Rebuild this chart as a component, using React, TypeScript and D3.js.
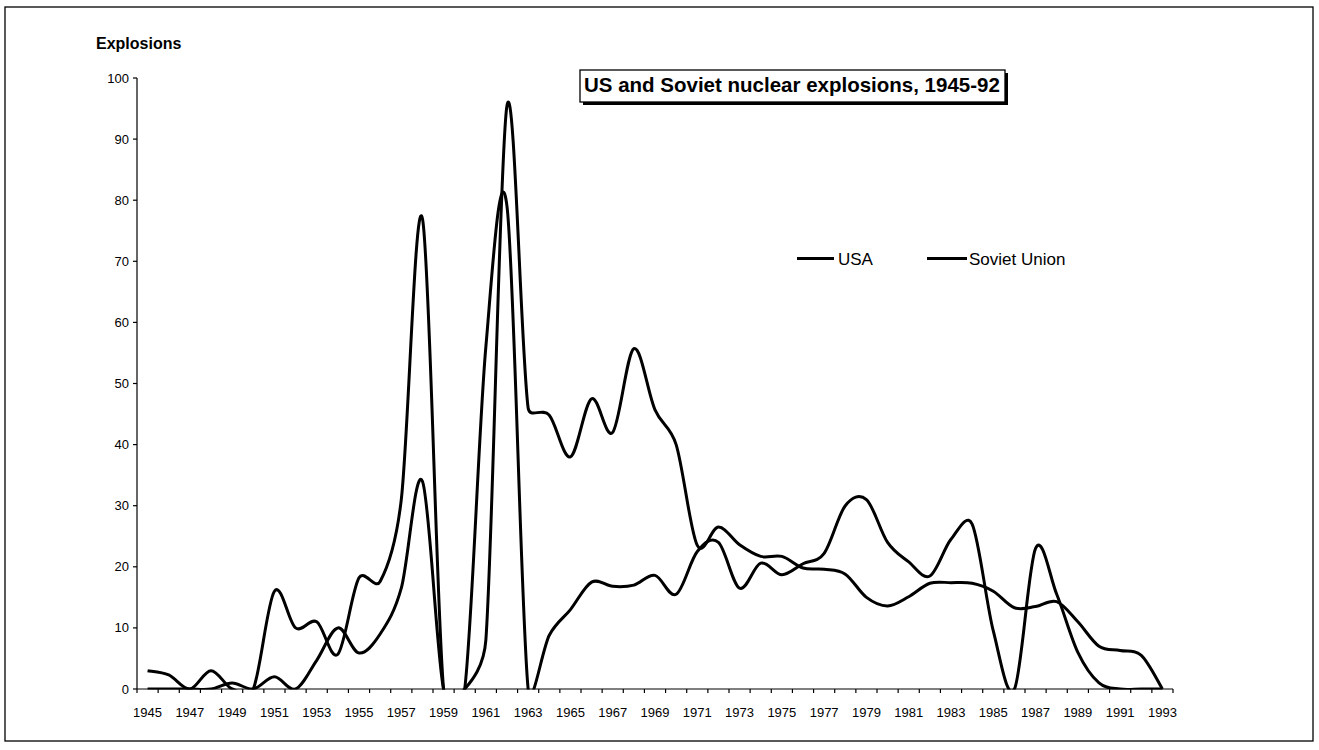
import React from "react";
import * as d3 from "d3";

const years = [
  1945, 1946, 1947, 1948, 1949, 1950, 1951, 1952, 1953, 1954, 1955, 1956, 1957, 1958, 1959, 1960, 1961,
  1962, 1963, 1964, 1965, 1966, 1967, 1968, 1969, 1970, 1971, 1972, 1973, 1974, 1975, 1976, 1977, 1978,
  1979, 1980, 1981, 1982, 1983, 1984, 1985, 1986, 1987, 1988, 1989, 1990, 1991, 1992, 1993,
];

const usa = [
  3, 2.3, 0, 3, 0, 0, 16, 10, 11, 5.7, 18.2, 17.6, 31, 77, 0, 0, 8, 95.5, 46, 44.8, 38, 47.5, 42, 55.7,
  45.7, 40, 23.5, 26.5, 23.6, 21.7, 21.7, 19.8, 19.6, 18.8, 15, 13.6, 15.1, 17.3, 17.4, 17.3, 16, 13.3,
  13.5, 14.3, 11, 7, 6.3, 5.5, 0,
];

const soviet = [
  0, 0, 0, 0, 1, 0, 2, 0, 4.7, 10, 5.9, 9, 16.5, 34, 0, 0, 56, 79, 0, 8.8, 13, 17.5, 16.8, 17, 18.6,
  15.5, 22.5, 24, 16.5, 20.6, 18.7, 20.5, 22.2, 30, 31, 24, 20.8, 18.5, 24.5, 27, 9.5, 0, 23, 15.5, 6, 1,
  0, 0, 0,
];

const yTicks = [0, 10, 20, 30, 40, 50, 60, 70, 80, 90, 100];
const xLabelYears = years.filter((y) => (y - 1945) % 2 === 0);

const seriesNames = ["USA", "Soviet Union"];
const title = "US and Soviet nuclear explosions, 1945-92";
const yTitle = "Explosions";

// Spreadsheet-style smoothed line: Bezier with (P[i+1]-P[i-1])/6 tangents,
// capped to half the segment length to avoid overshoot on short segments.
function curveSpreadsheet(context: any) {
  let pts: [number, number][] = [];
  return {
    areaStart() {},
    areaEnd() {},
    lineStart() {
      pts = [];
    },
    point(x: number, y: number) {
      pts.push([+x, +y]);
    },
    lineEnd() {
      const n = pts.length;
      if (!n) return;
      context.moveTo(pts[0][0], pts[0][1]);
      const tan = (i: number) => {
        const a = pts[Math.max(0, i - 1)];
        const b = pts[Math.min(n - 1, i + 1)];
        return [(b[0] - a[0]) / 6, (b[1] - a[1]) / 6];
      };
      for (let i = 0; i < n - 1; i++) {
        const a = pts[i];
        const b = pts[i + 1];
        const seg = Math.hypot(b[0] - a[0], b[1] - a[1]);
        const cap = (t: number[]) => {
          const l = Math.hypot(t[0], t[1]);
          const m = seg / 2;
          return l > m && l > 0 ? [(t[0] * m) / l, (t[1] * m) / l] : t;
        };
        const t1 = cap(tan(i));
        const t2 = cap(tan(i + 1));
        context.bezierCurveTo(a[0] + t1[0], a[1] + t1[1], b[0] - t2[0], b[1] - t2[1], b[0], b[1]);
      }
    },
  };
}

export default function App() {
  const W = 1319;
  const H = 750;
  const left = 137;
  const right = 1173;
  const top = 78;
  const bottom = 689;

  const x = d3.scaleBand<number>().domain(years).range([left, right]).paddingInner(0).paddingOuter(0);
  const y = d3.scaleLinear().domain([0, 100]).range([bottom, top]);
  const bw = x.bandwidth();
  const cx = (yr: number) => (x(yr) as number) + bw / 2;

  const line = d3
    .line<number>()
    .x((_, i) => cx(years[i]))
    .y((d) => y(d))
    .curve(curveSpreadsheet as any);

  const font = "'Liberation Sans', Arial, Helvetica, sans-serif";
  const boundaries = d3.range(years.length + 1).map((i) => left + i * bw);

  return (
    <svg
      width={W}
      height={H}
      style={{ position: "absolute", left: 0, top: 0, background: "#fff" }}
      fontFamily={font}
    >
      <rect x={0} y={0} width={W} height={H} fill="#fff" />
      <rect x={5} y={7} width={1308} height={734} fill="none" stroke="#000" strokeWidth={1.3} />

      <defs>
        <clipPath id="plotclip">
          <rect x={left} y={0} width={right - left} height={bottom + 0.5} />
        </clipPath>
      </defs>

      <text x={96} y={49} fontSize={16} fontWeight="bold" fill="#000">
        {yTitle}
      </text>

      <line x1={left} x2={left} y1={top} y2={bottom} stroke="#000" strokeWidth={1.2} />
      {yTicks.map((t) => (
        <g key={t}>
          <line x1={left - 4} x2={left} y1={y(t)} y2={y(t)} stroke="#000" strokeWidth={1.2} />
          <text x={129} y={y(t) + 4.5} fontSize={13} textAnchor="end" fill="#000">
            {t}
          </text>
        </g>
      ))}

      <line x1={left} x2={right} y1={bottom} y2={bottom} stroke="#000" strokeWidth={1.2} />
      {boundaries.map((bx, i) => (
        <line key={i} x1={bx} x2={bx} y1={bottom} y2={bottom + 4} stroke="#000" strokeWidth={1.2} />
      ))}
      {xLabelYears.map((yr) => (
        <text key={yr} x={cx(yr)} y={716.5} fontSize={13} textAnchor="middle" fill="#000">
          {yr}
        </text>
      ))}

      <g clipPath="url(#plotclip)">
        <path d={line(usa) || ""} fill="none" stroke="#000" strokeWidth={3} strokeLinejoin="round" />
        <path d={line(soviet) || ""} fill="none" stroke="#000" strokeWidth={3} strokeLinejoin="round" />
      </g>

      <rect x={583} y={73} width={425} height={32} fill="#000" />
      <rect x={580} y={70} width={425} height={32} fill="#fff" stroke="#000" strokeWidth={1.3} />
      <text x={584} y={92} fontSize={20.5} fontWeight="bold" fill="#000">
        {title}
      </text>

      <line x1={797} x2={834} y1={258.5} y2={258.5} stroke="#000" strokeWidth={3} />
      <text x={838} y={265} fontSize={17} fill="#000">
        {seriesNames[0]}
      </text>
      <line x1={927} x2={967} y1={258.5} y2={258.5} stroke="#000" strokeWidth={3} />
      <text x={969} y={265} fontSize={17} fill="#000">
        {seriesNames[1]}
      </text>
    </svg>
  );
}
